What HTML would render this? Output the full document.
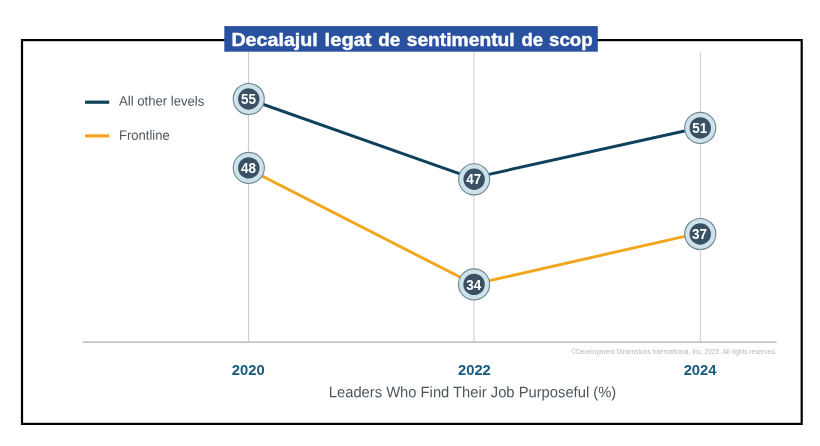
<!DOCTYPE html>
<html><head><meta charset="utf-8">
<style>
html,body{margin:0;padding:0;background:#fff;}
body{width:820px;height:446px;overflow:hidden;font-family:"Liberation Sans",sans-serif;}
svg{display:block;will-change:transform;}
text{font-family:"Liberation Sans",sans-serif;}
</style></head><body>
<svg width="820" height="446" viewBox="0 0 820 446">
<rect width="820" height="446" fill="#fff"/>
<!-- frame -->
<rect x="22.0" y="40.1" width="779.7" height="383.8" fill="none" stroke="#000" stroke-width="2.2"/>
<!-- gridlines -->
<g stroke="#d0d0d0" stroke-width="1.1">
<line x1="248.5" y1="52" x2="248.5" y2="342"/>
<line x1="473.9" y1="52" x2="473.9" y2="342"/>
<line x1="700.4" y1="52" x2="700.4" y2="342"/>
</g>
<!-- axis -->
<line x1="82.5" y1="342.15" x2="776.6" y2="342.15" stroke="#aeaeae" stroke-width="1.15"/>
<!-- title -->
<rect x="224.3" y="26.1" width="373.5" height="25.6" fill="#2a50a0"/>
<g id="title" font-size="18.4" font-weight="bold" fill="#fff" stroke="#fff" stroke-width="0.4">
<text x="231.4" y="46" textLength="86.4" lengthAdjust="spacingAndGlyphs">Decalajul</text>
<text x="324.6" y="46" textLength="47" lengthAdjust="spacingAndGlyphs">legat</text>
<text x="378.3" y="46" textLength="22" lengthAdjust="spacingAndGlyphs">de</text>
<text x="406.7" y="46" textLength="108" lengthAdjust="spacingAndGlyphs">sentimentul</text>
<text x="521.4" y="46" textLength="21.6" lengthAdjust="spacingAndGlyphs">de</text>
<text x="549" y="46" textLength="43.8" lengthAdjust="spacingAndGlyphs">scop</text>
</g>
<!-- legend -->
<line x1="85" y1="102.2" x2="109.2" y2="102.2" stroke="#0f415c" stroke-width="3.2"/>
<line x1="85" y1="135.9" x2="109.2" y2="135.9" stroke="#f2a61d" stroke-width="3.2"/>
<text id="lg1" x="119.0" y="105.6" font-size="13.6" fill="#4c575f" textLength="85.3" lengthAdjust="spacingAndGlyphs" transform="rotate(0.03 119 105.6)">All other levels</text>
<text id="lg2" x="119.0" y="139.8" font-size="13.4" fill="#4c575f" textLength="50.8" lengthAdjust="spacingAndGlyphs" transform="rotate(0.03 119 139.8)">Frontline</text>
<!-- lines -->
<g stroke="#0f415c" stroke-width="2.9" fill="none"><path d="M248.75 99.3L474.2 178.8"/><path d="M474.2 177.6L700.25 127.5"/></g>
<g stroke="#f2a61d" stroke-width="2.9" fill="none"><path d="M248.8 169.3L474.1 284.3"/><path d="M474.1 284.1L700.25 232.8"/></g>
<!-- markers -->
<g id="markers">
<g transform="translate(248.75,99.0)"><circle r="15.55" fill="#cee2eb" stroke="#6f8591" stroke-width="1.1"/><circle r="10.7" fill="#395162"/><text x="-0.3" y="4.85" font-size="15" font-weight="bold" text-anchor="middle" fill="#fff" textLength="15" lengthAdjust="spacingAndGlyphs">55</text></g>
<g transform="translate(248.8,167.9)"><circle r="15.55" fill="#cee2eb" stroke="#6f8591" stroke-width="1.1"/><circle r="10.7" fill="#395162"/><text x="-0.3" y="5.15" font-size="15" font-weight="bold" text-anchor="middle" fill="#fff" textLength="15" lengthAdjust="spacingAndGlyphs">48</text></g>
<g transform="translate(474.15,179.3)"><circle r="15.55" fill="#cee2eb" stroke="#6f8591" stroke-width="1.1"/><circle r="10.7" fill="#395162"/><text x="-0.3" y="5.15" font-size="15" font-weight="bold" text-anchor="middle" fill="#fff" textLength="15" lengthAdjust="spacingAndGlyphs">47</text></g>
<g transform="translate(474.05,284.4)"><circle r="15.55" fill="#cee2eb" stroke="#6f8591" stroke-width="1.1"/><circle r="10.7" fill="#395162"/><text x="-0.3" y="5.25" font-size="15" font-weight="bold" text-anchor="middle" fill="#fff" textLength="15" lengthAdjust="spacingAndGlyphs">34</text></g>
<g transform="translate(700.25,127.9)"><circle r="15.55" fill="#cee2eb" stroke="#6f8591" stroke-width="1.1"/><circle r="10.7" fill="#395162"/><text x="-0.4" y="5.05" font-size="15" font-weight="bold" text-anchor="middle" fill="#fff" textLength="15" lengthAdjust="spacingAndGlyphs">51</text></g>
<g transform="translate(700.25,234.0)"><circle r="15.55" fill="#cee2eb" stroke="#6f8591" stroke-width="1.1"/><circle r="10.7" fill="#395162"/><text x="-0.7" y="4.80" font-size="15" font-weight="bold" text-anchor="middle" fill="#fff" textLength="15" lengthAdjust="spacingAndGlyphs">37</text></g>
</g>
<!-- axis labels -->
<text x="248.2" y="374.6" font-size="14.8" font-weight="bold" text-anchor="middle" fill="#1a5a80" textLength="32.9" lengthAdjust="spacingAndGlyphs">2020</text><text x="474.4" y="374.6" font-size="14.8" font-weight="bold" text-anchor="middle" fill="#1a5a80" textLength="32.9" lengthAdjust="spacingAndGlyphs">2022</text><text x="700.1" y="374.6" font-size="14.8" font-weight="bold" text-anchor="middle" fill="#1a5a80" textLength="32.9" lengthAdjust="spacingAndGlyphs">2024</text>
<text id="xlab" x="328.8" y="397.2" font-size="15.3" fill="#4c575f" textLength="287.4" lengthAdjust="spacingAndGlyphs" transform="rotate(0.03 328.8 397.2)">Leaders Who Find Their Job Purposeful (%)</text>
<text id="copy" x="571.2" y="353.8" font-size="6.3" fill="#b4b9be" textLength="205.5" lengthAdjust="spacingAndGlyphs">©Development Dimensions International, Inc. 2025. All rights reserved.</text>
</svg>
</body></html>
